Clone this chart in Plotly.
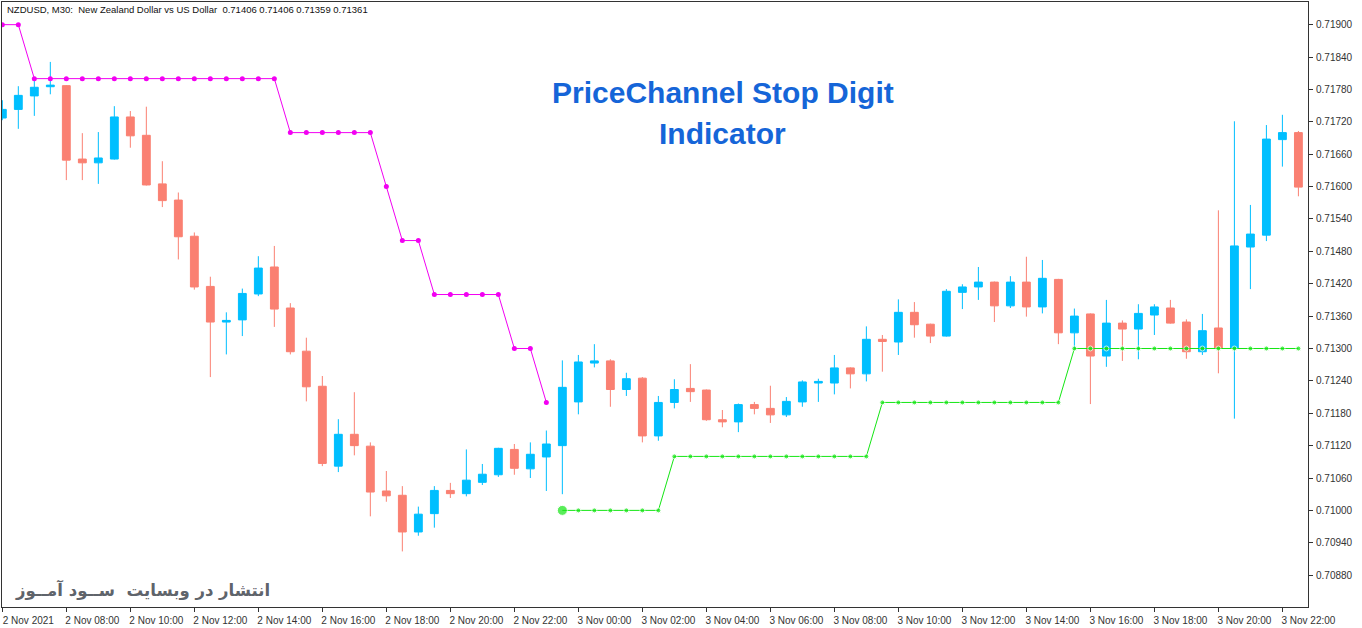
import pandas as pd
import plotly.graph_objects as go

# 30-minute bars, 2 Nov 2021 06:00 onwards
times = pd.date_range("2021-11-02 06:00", periods=82, freq="30min").strftime("%Y-%m-%d %H:%M").tolist()

opens = [0.71727, 0.71743, 0.71768, 0.71785, 0.71787, 0.71651, 0.71644, 0.71651, 0.71729, 0.71695,
         0.71605, 0.71575, 0.71508, 0.71415, 0.71349, 0.71353, 0.71401, 0.71451, 0.71375, 0.71295,
         0.71230, 0.71082, 0.71141, 0.71119, 0.71036, 0.71028, 0.70960, 0.70994, 0.71037, 0.71031,
         0.71052, 0.71066, 0.71113, 0.71077, 0.71099, 0.71120, 0.71201, 0.71273, 0.71277, 0.71224,
         0.71245, 0.71138, 0.71200, 0.71226, 0.71223, 0.71168, 0.71164, 0.71196, 0.71189, 0.71177,
         0.71201, 0.71236, 0.71236, 0.71264, 0.71253, 0.71317, 0.71312, 0.71367, 0.71345, 0.71323,
         0.71404, 0.71414, 0.71423, 0.71379, 0.71423, 0.71377, 0.71428, 0.71329, 0.71364, 0.71286,
         0.71347, 0.71336, 0.71362, 0.71375, 0.71349, 0.71294, 0.71338, 0.71300, 0.71488, 0.71510,
         0.71687, 0.71700]
highs = [0.71760, 0.71786, 0.71797, 0.71831, 0.71788, 0.71699, 0.71701, 0.71749, 0.71740, 0.71748,
         0.71647, 0.71589, 0.71515, 0.71433, 0.71367, 0.71411, 0.71471, 0.71490, 0.71384, 0.71320,
         0.71249, 0.71169, 0.71219, 0.71126, 0.71073, 0.71045, 0.71007, 0.71045, 0.71051, 0.71113,
         0.71086, 0.71116, 0.71123, 0.71126, 0.71148, 0.71278, 0.71288, 0.71308, 0.71280, 0.71255,
         0.71247, 0.71212, 0.71243, 0.71271, 0.71224, 0.71186, 0.71198, 0.71201, 0.71231, 0.71210,
         0.71241, 0.71244, 0.71288, 0.71265, 0.71341, 0.71325, 0.71391, 0.71386, 0.71346, 0.71410,
         0.71419, 0.71451, 0.71424, 0.71434, 0.71470, 0.71464, 0.71429, 0.71374, 0.71365, 0.71390,
         0.71352, 0.71382, 0.71382, 0.71390, 0.71354, 0.71364, 0.71556, 0.71721, 0.71566, 0.71714,
         0.71733, 0.71703]
lows = [0.71723, 0.71707, 0.71731, 0.71771, 0.71612, 0.71612, 0.71605, 0.71650, 0.71672, 0.71602,
        0.71562, 0.71465, 0.71409, 0.71247, 0.71289, 0.71323, 0.71397, 0.71340, 0.71289, 0.71202,
        0.71082, 0.71071, 0.71102, 0.70989, 0.71016, 0.70924, 0.70953, 0.70968, 0.71023, 0.71026,
        0.71047, 0.71062, 0.71066, 0.71060, 0.71036, 0.71030, 0.71178, 0.71265, 0.71192, 0.71212,
        0.71126, 0.71129, 0.71189, 0.71201, 0.71166, 0.71154, 0.71145, 0.71178, 0.71162, 0.71173,
        0.71192, 0.71201, 0.71215, 0.71226, 0.71239, 0.71257, 0.71288, 0.71320, 0.71310, 0.71322,
        0.71373, 0.71390, 0.71349, 0.71375, 0.71359, 0.71365, 0.71308, 0.71300, 0.71197, 0.71266,
        0.71277, 0.71280, 0.71325, 0.71346, 0.71281, 0.71288, 0.71254, 0.71170, 0.71410, 0.71499,
        0.71637, 0.71582]
closes = [0.71743, 0.71769, 0.71784, 0.71788, 0.71649, 0.71644, 0.71653, 0.71729, 0.71694, 0.71603,
          0.71574, 0.71507, 0.71414, 0.71349, 0.71352, 0.71402, 0.71449, 0.71373, 0.71294, 0.71229,
          0.71087, 0.71141, 0.71120, 0.71034, 0.71027, 0.70960, 0.70993, 0.71037, 0.71031, 0.71056,
          0.71067, 0.71115, 0.71078, 0.71104, 0.71123, 0.71228, 0.71275, 0.71277, 0.71224, 0.71244,
          0.71138, 0.71200, 0.71224, 0.71220, 0.71168, 0.71164, 0.71196, 0.71189, 0.71177, 0.71202,
          0.71238, 0.71239, 0.71264, 0.71253, 0.71317, 0.71313, 0.71367, 0.71344, 0.71323, 0.71406,
          0.71414, 0.71423, 0.71379, 0.71423, 0.71377, 0.71430, 0.71329, 0.71360, 0.71286, 0.71347,
          0.71336, 0.71365, 0.71377, 0.71347, 0.71294, 0.71333, 0.71300, 0.71490, 0.71512, 0.71688,
          0.71700, 0.71599]

# PriceChannel Stop levels
upper_stop = [0.71900, 0.71900] + [0.71800] * 16 + [0.71700] * 6 + [0.71600] + [0.71500] * 2 + \
             [0.71400] * 5 + [0.71300] * 2 + [0.71200] + [None] * 47
lower_stop = [None] * 35 + [0.71000] * 7 + [0.71100] * 13 + [0.71200] * 12 + [0.71300] * 15

tick_idx = list(range(0, 82, 4))
tick_labels = ["2 Nov 2021", "2 Nov 08:00", "2 Nov 10:00", "2 Nov 12:00", "2 Nov 14:00", "2 Nov 16:00",
               "2 Nov 18:00", "2 Nov 20:00", "2 Nov 22:00", "3 Nov 00:00", "3 Nov 02:00", "3 Nov 04:00",
               "3 Nov 06:00", "3 Nov 08:00", "3 Nov 10:00", "3 Nov 12:00", "3 Nov 14:00", "3 Nov 16:00",
               "3 Nov 18:00", "3 Nov 20:00", "3 Nov 22:00"]
price_ticks = [0.70880, 0.70940, 0.71000, 0.71060, 0.71120, 0.71180, 0.71240, 0.71300, 0.71360,
               0.71420, 0.71480, 0.71540, 0.71600, 0.71660, 0.71720, 0.71780, 0.71840, 0.71900]

BULL = "#00BFFF"
BEAR = "#FA8072"
MAGENTA = "#F200F2"
GREEN = "#14E614"

fig = go.Figure()
fig.add_trace(go.Candlestick(
    x=times, open=opens, high=highs, low=lows, close=closes,
    increasing=dict(line=dict(color=BULL, width=1), fillcolor=BULL),
    decreasing=dict(line=dict(color=BEAR, width=1), fillcolor=BEAR),
    showlegend=False, hoverinfo="skip",
))
fig.add_trace(go.Scatter(
    x=times, y=upper_stop, mode="lines+markers",
    line=dict(color=MAGENTA, width=1), marker=dict(color=MAGENTA, size=5),
    showlegend=False, hoverinfo="skip", connectgaps=False,
))
green_sizes = [10 if i == 35 else 5 for i in range(len(times))]
fig.add_trace(go.Scatter(
    x=times, y=lower_stop, mode="lines+markers",
    line=dict(color=GREEN, width=1), marker=dict(color=GREEN, size=green_sizes),
    showlegend=False, hoverinfo="skip", connectgaps=False,
))

axis_font = dict(family="Liberation Sans, Arial, sans-serif", size=10, color="#333333")
fig.update_layout(
    width=1362, height=628,
    margin=dict(l=2, r=54, t=2, b=21),
    paper_bgcolor="white", plot_bgcolor="white",
    showlegend=False,
    xaxis=dict(
        type="category", range=[-0.02, 81.6],
        rangeslider=dict(visible=False),
        tickmode="array", tickvals=[times[i] for i in tick_idx], ticktext=tick_labels,
        ticks="outside", ticklen=4, tickcolor="#333333",
        ticklabelshift=26, ticklabelstandoff=0, tickfont=axis_font,
        showgrid=False, zeroline=False,
        showline=True, linecolor="#333333", linewidth=1, mirror=True,
    ),
    yaxis=dict(
        side="right", range=[0.70821, 0.71942],
        tickmode="array", tickvals=price_ticks, tickformat=".5f",
        ticks="outside", ticklen=4, tickcolor="#333333",
        ticklabelstandoff=1, tickfont=axis_font,
        showgrid=False, zeroline=False,
        showline=True, linecolor="#333333", linewidth=1, mirror=True,
    ),
    annotations=[
        dict(text="NZDUSD, M30:  New Zealand Dollar vs US Dollar  0.71406 0.71406 0.71359 0.71361",
             xref="paper", yref="paper", x=0.0025, y=0.987, xanchor="left", yanchor="middle",
             showarrow=False, font=dict(family="Liberation Sans, Arial, sans-serif", size=9.5, color="#111111")),
        dict(text="<b>PriceChannel Stop Digit</b>", xref="paper", yref="paper", x=0.552, y=0.851,
             xanchor="center", yanchor="middle", showarrow=False,
             font=dict(family="Liberation Sans, Arial, sans-serif", size=30, color="#1565D8")),
        dict(text="<b>Indicator</b>", xref="paper", yref="paper", x=0.552, y=0.782,
             xanchor="center", yanchor="middle", showarrow=False,
             font=dict(family="Liberation Sans, Arial, sans-serif", size=30, color="#1565D8")),
        dict(text="<b>انتشار در وبسایت  ســود آمــوز</b>", xref="paper", yref="paper", x=0.0085, y=0.028,
             xanchor="left", yanchor="middle", showarrow=False,
             font=dict(family="DejaVu Sans, Noto Sans, sans-serif", size=16.5, color="#5F646B")),
    ],
)

fig.write_html("out.html", config={"displayModeBar": False},
               post_script="document.body.style.margin='0px';document.body.style.overflow='hidden';")
